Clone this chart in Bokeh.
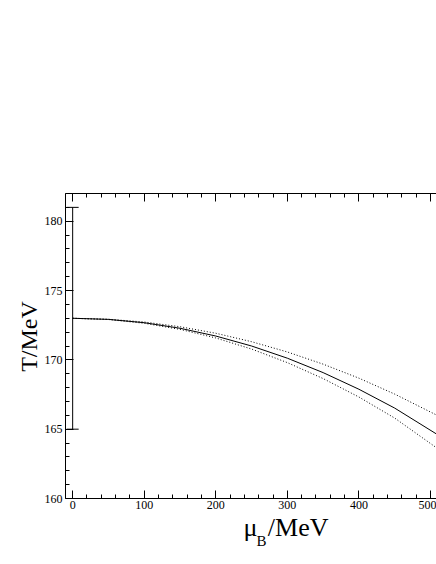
import math
from bokeh.plotting import figure, gridplot
from bokeh.models import Range1d, SingleIntervalTicker, LinearAxis
from bokeh.core.properties import value
from bokeh.embed import file_html
from bokeh.resources import INLINE

# data
mu_B = [0, 50, 100, 150, 200, 250, 300, 350, 400, 450, 510]
T_central = [173.0, 172.92, 172.68, 172.28, 171.72, 171.0, 170.12, 169.08, 167.88, 166.52, 164.6]
T_upper = [173.0, 172.93, 172.73, 172.39, 171.92, 171.31, 170.57, 169.69, 168.68, 167.53, 165.98]
T_lower = [173.0, 172.91, 172.64, 172.2, 171.58, 170.78, 169.8, 168.65, 167.32, 165.8, 163.6]
eb_mu = [0]
eb_T = [173.0]
eb_err = [8.0]

x_label_parts = ["μ", "B", "/MeV"]
y_label = "T/MeV"

X0, X1 = -10, 508.4
Y0, Y1 = 160, 182
LW = 40                 # left strip holding the y title
BL, BT, BB = 25, 193, 16
W = 436 - LW
FH = 305
H = BT + FH + BB
H2 = 562 - H
FL = LW + BL            # page x of frame left

FONT = "Liberation Serif"

def blank(fig):
    fig.outline_line_color = None
    fig.xgrid.visible = False
    fig.ygrid.visible = False
    fig.background_fill_color = "white"
    fig.border_fill_color = "white"

p = figure(width=W, height=H, x_range=Range1d(X0, X1), y_range=Range1d(Y0, Y1),
           output_backend="svg", toolbar_location=None,
           min_border_left=BL, min_border_right=0, min_border_top=BT, min_border_bottom=BB)
blank(p)

def style_axis(ax, show_labels=True):
    ax.major_tick_in = 8
    ax.major_tick_out = 0
    ax.minor_tick_in = 4
    ax.minor_tick_out = 0
    ax.axis_line_color = "black"
    ax.major_tick_line_color = "black"
    ax.minor_tick_line_color = "black"
    ax.major_label_text_font = FONT
    ax.major_label_text_font_size = "12px"
    ax.major_label_text_color = "black" if show_labels else None
    ax.major_label_standoff = 2

p.xaxis.ticker = SingleIntervalTicker(interval=100, num_minor_ticks=5)
p.yaxis.ticker = SingleIntervalTicker(interval=5, num_minor_ticks=5)
style_axis(p.xaxis[0])
style_axis(p.yaxis[0])
p.yaxis[0].major_label_standoff = 3

top = LinearAxis(ticker=SingleIntervalTicker(interval=100, num_minor_ticks=5))
style_axis(top, show_labels=False)
p.add_layout(top, "above")

p.line(mu_B, T_central, line_color="black", line_width=1)
p.line(mu_B, T_upper, line_color="black", line_width=1, line_dash="1 2")
p.line(mu_B, T_lower, line_color="black", line_width=1, line_dash="1 2")

lo = [t - e for t, e in zip(eb_T, eb_err)]
hi = [t + e for t, e in zip(eb_T, eb_err)]
p.segment(x0=eb_mu, y0=lo, x1=eb_mu, y1=hi, line_color="black", line_width=1)
p.scatter(x=eb_mu + eb_mu, y=lo + hi, marker="dash", size=12, line_color="black", line_width=1)

# left strip: y-axis title (data coords = page pixels, y negated)
pL = figure(width=LW, height=H, x_range=Range1d(0, LW), y_range=Range1d(-(BT + FH), -BT),
            output_backend="svg", toolbar_location=None,
            x_axis_location=None, y_axis_location=None,
            min_border_left=0, min_border_right=0, min_border_top=BT, min_border_bottom=BB)
blank(pL)
pL.text(x=[28], y=[-336], text=[y_label], angle=math.pi / 2, text_font=value(FONT),
        text_font_size="24px", text_align="center", text_baseline="middle", text_color="black")

# bottom strip: x-axis title (data coords = page pixels)
p2 = figure(width=W, height=H2, x_range=Range1d(FL, 436), y_range=Range1d(0, H2),
            output_backend="svg", toolbar_location=None,
            x_axis_location=None, y_axis_location=None,
            min_border_left=BL, min_border_right=0, min_border_top=0, min_border_bottom=0)
blank(p2)

def strip_y(page_y):
    return H2 - (page_y - H)

p2.text(x=[243], y=[strip_y(527)], text=[x_label_parts[0]], text_font=value(FONT),
        text_font_size="26px", text_baseline="middle", text_align="left", text_color="black")
p2.text(x=[256], y=[strip_y(540)], text=[x_label_parts[1]], text_font=value(FONT),
        text_font_size="15px", text_baseline="middle", text_align="left", text_color="black")
p2.text(x=[328], y=[strip_y(527)], text=[x_label_parts[2]], text_font=value(FONT),
        text_font_size="26px", text_baseline="middle", text_align="right", text_color="black")

layout = gridplot([[pL, p], [None, p2]], toolbar_location=None)
open("out.html", "w").write(file_html(layout, INLINE))
